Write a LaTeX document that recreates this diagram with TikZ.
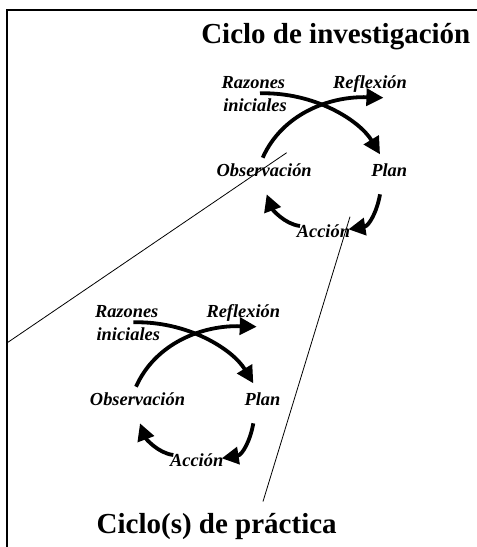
\documentclass[tikz,border=0pt]{standalone}
\usepackage{fontspec}
\setmainfont{Liberation Serif}
\usetikzlibrary{arrows.meta}

% one reflective cycle, drawn around the baseline of "Observación";
% #1 is a prefix for the names of its nodes and coordinates
\newcommand\cyclediagram[1]{%
  \node[lbl] (#1raz) at (-10.8,-87.3) {Razones};
  \node[lbl] (#1ini) at (-9.2,-65)    {iniciales};
  \node[lbl] (#1ref) at (105.8,-87.3) {Reflexión};
  \node[lbl] (#1obs) at (0,0)         {Observación};
  \node[lbl] (#1pla) at (125,0)       {Plan};
  \node[lbl] (#1acc) at (59.2,61.7)   {Acción};
  % arrow ends
  \coordinate (#1a1s) at (-4.2,-82.7);  \coordinate (#1a1e) at (115.8,-21.7);
  \coordinate (#1a2s) at (-1.5,-18.3);  \coordinate (#1a2e) at (119.2,-78.3);
  \coordinate (#1a3s) at (115.8,18.3);  \coordinate (#1a3e) at (84.2,53.3);
  \coordinate (#1a4s) at (35.8,50);     \coordinate (#1a4e) at (2.5,18.3);
  % razones iniciales -> plan
  \draw[cyc] (#1a1s) .. controls (50,-84) and (95,-56) .. (#1a1e);
  % observacion -> reflexion
  \draw[cyc] (#1a2s) .. controls (18,-62) and (65,-80) .. (#1a2e);
  % plan -> accion
  \draw[cyc] (#1a3s) .. controls (113,35) and (105,50) .. (#1a3e);
  % accion -> observacion
  \draw[cyc] (#1a4s) .. controls (20,48) and (8,33) .. (#1a4e);
}

\begin{document}
\begin{tikzpicture}[x=1pt,y=-1pt,
  lbl/.style={anchor=base,inner sep=0pt,
    font=\fontsize{18.4}{22}\selectfont\bfseries\itshape},
  ttl/.style={anchor=base,inner sep=0pt,
    font=\fontsize{29}{34}\selectfont\bfseries},
  cyc/.style={line width=3.8pt,-{Triangle[length=17pt,width=17pt]}},
  thin/.style={line width=0.8pt}]
  \useasboundingbox (0,0) rectangle (477,547);
  \fill[white] (0,0) rectangle (477,547);

  % frame, open to the right and to the bottom
  \draw[line width=2pt] (477,10.3) -- (7.3,10.3) -- (7.3,547);

  % titles
  \node[ttl] (tinv) at (335.8,43.3) {Ciclo de investigación};
  \node[ttl] (tpra) at (216.7,533.3) {Ciclo(s) de práctica};

  % research cycle (upper) and practice cycle (lower)
  \begin{scope}[shift={(264.2,176)}]
    \cyclediagram{i}
  \end{scope}
  \begin{scope}[shift={(137.5,405)}]
    \cyclediagram{p}
  \end{scope}

  % lines joining the two cycles
  \coordinate (l1a) at (286.7,152.7);
  \coordinate (l1b) at (7.3,342.7);
  \coordinate (l2a) at (350,216.7);
  \coordinate (l2b) at (263,501.5);
  \draw[thin] (l1a) -- (l1b);
  \draw[thin] (l2a) -- (l2b);
\end{tikzpicture}
\end{document}
